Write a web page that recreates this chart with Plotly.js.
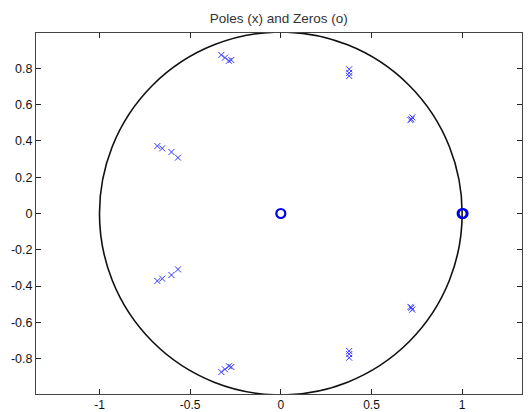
<!DOCTYPE html>
<html>
<head>
<meta charset="utf-8">
<script src="https://cdn.plot.ly/plotly-3.0.1.min.js"></script>
<style>html,body{margin:0;padding:0;background:#fff;}#chart{width:531px;height:412px;}</style>
</head>
<body>
<div id="chart"></div>
<script>
const poleRe = [-0.328, -0.308, -0.286, -0.273, 0.377, 0.377, 0.377, 0.715, 0.725, 0.72,
                -0.681, -0.654, -0.603, -0.567,
                -0.681, -0.654, -0.603, -0.567,
                -0.328, -0.308, -0.286, -0.273, 0.377, 0.377, 0.377, 0.715, 0.725, 0.72];
const poleIm = [0.874, 0.859, 0.842, 0.846, 0.795, 0.775, 0.758, 0.515, 0.53, 0.52,
                0.372, 0.359, 0.339, 0.308,
                -0.372, -0.359, -0.339, -0.308,
                -0.874, -0.859, -0.842, -0.846, -0.795, -0.775, -0.758, -0.515, -0.53, -0.52];
// Zeros (o markers)
const zeroRe = [0, 1, 1.005];
const zeroIm = [0, 0, 0];
// Tick labels
const xTickVals = [-1, -0.5, 0, 0.5, 1];
const xTickText = ["-1", "-0.5", "0", "0.5", "1"];
const yTickVals = [-0.8, -0.6, -0.4, -0.2, 0, 0.2, 0.4, 0.6, 0.8];
const yTickText = ["-0.8", "-0.6", "-0.4", "-0.2", "0", "0.2", "0.4", "0.6", "0.8"];
const unitRadius = 1;

const traces = [
  {x: poleRe, y: poleIm, type: 'scatter', mode: 'markers', hoverinfo: 'skip',
   marker: {symbol: 'x-thin-open', size: 6, color: '#3333ff', line: {color: '#3333ff', width: 1}}},
  {x: zeroRe, y: zeroIm, type: 'scatter', mode: 'markers', hoverinfo: 'skip',
   marker: {symbol: 'circle-open', size: 9, color: '#0000ee', line: {color: '#0000ee', width: 2.2}}}
];

const fontFam = 'Arial, "Liberation Sans", sans-serif';
const axisCommon = {
  showgrid: false, zeroline: false, showline: true, linecolor: '#444', linewidth: 1,
  mirror: 'ticks', ticks: 'inside', ticklen: 5, tickcolor: '#222', tickwidth: 1,
  tickmode: 'array'
};

const layout = {
  width: 531, height: 412,
  margin: {l: 36, r: 9, t: 33, b: 18},
  paper_bgcolor: '#fff', plot_bgcolor: '#fff',
  showlegend: false,
  title: {text: 'Poles (x) and Zeros (o)', x: 0.525, xanchor: 'center', y: 0.956, yanchor: 'middle',
          font: {family: fontFam, size: 13.5, color: '#333'}},
  xaxis: Object.assign({}, axisCommon, {range: [-1.35, 1.33], tickvals: xTickVals, ticktext: xTickText,
          tickfont: {family: fontFam, size: 12, color: '#111'}}),
  yaxis: Object.assign({}, axisCommon, {range: [-0.995, 0.995], tickvals: yTickVals, ticktext: yTickText,
          tickfont: {family: fontFam, size: 12.5, color: '#111'}}),
  shapes: [
    {type: 'circle', xref: 'x', yref: 'y', x0: -unitRadius, x1: unitRadius, y0: -unitRadius, y1: unitRadius,
     line: {color: '#111', width: 1.6}, layer: 'below'}
  ]
};

Plotly.newPlot('chart', traces, layout, {displayModeBar: false, staticPlot: true});
</script>
</body>
</html>
